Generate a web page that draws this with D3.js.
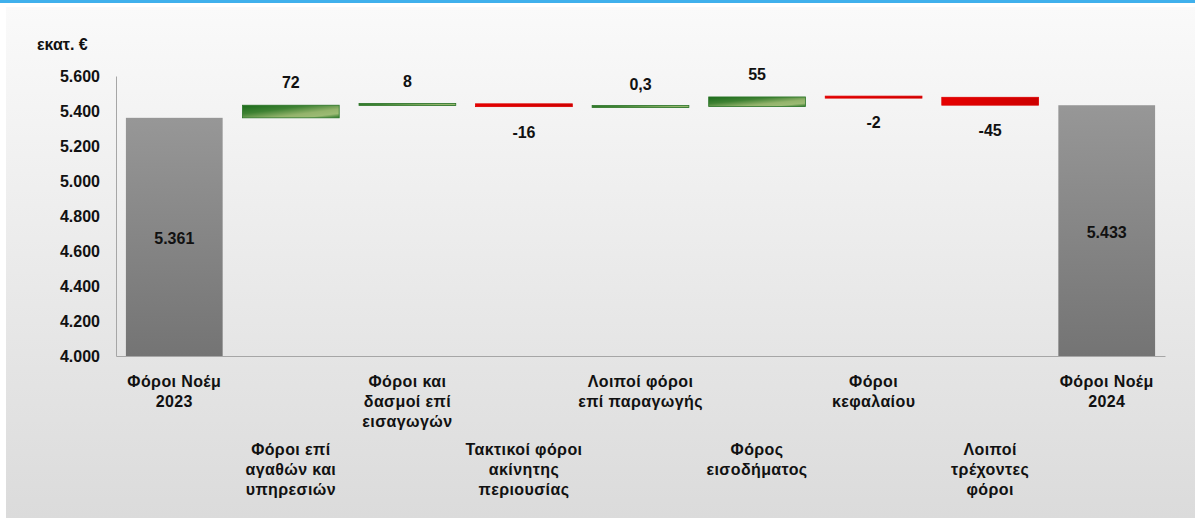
<!DOCTYPE html>
<html>
<head>
<meta charset="utf-8">
<script src="https://cdn.jsdelivr.net/npm/d3@7"></script>
<style>
  body { margin: 0; background: #fff; }
  text { font-family: "Liberation Sans", Arial, sans-serif; font-weight: bold; fill: #111; }
</style>
</head>
<body>
<svg width="1195" height="519"></svg>
<script>
// waterfall data
var categories = [
  "Φόροι Νοέμ\n2023",
  "Φόροι επί\nαγαθών και\nυπηρεσιών",
  "Φόροι και\nδασμοί επί\nεισαγωγών",
  "Τακτικοί φόροι\nακίνητης\nπεριουσίας",
  "Λοιποί φόροι\nεπί παραγωγής",
  "Φόρος\nεισοδήματος",
  "Φόροι\nκεφαλαίου",
  "Λοιποί\nτρέχοντες\nφόροι",
  "Φόροι Νοέμ\n2024"
];
var values = [5361, 72, 8, -16, 0.3, 55, -2, -45, 5433];
var isTotal = [true, false, false, false, false, false, false, false, true];
var yTicks = [4000, 4200, 4400, 4600, 4800, 5000, 5200, 5400, 5600];
var unitLabel = "εκατ. €";

var svg = d3.select("svg");
var width = +svg.attr("width");
var height = +svg.attr("height");

var locale = d3.formatLocale({decimal: ",", thousands: ".", grouping: [3], currency: ["", "€"], minus: "-"});
var fmtTick = locale.format(",d");
var fmtVal = locale.format(",.1~f");

var defs = svg.append("defs");
var bg = defs.append("linearGradient").attr("id", "bg").attr("x1", 0).attr("y1", 0).attr("x2", 0).attr("y2", 1);
bg.append("stop").attr("offset", "0%").attr("stop-color", "#fafafa");
bg.append("stop").attr("offset", "100%").attr("stop-color", "#dbdbdb");

var grey = defs.append("linearGradient").attr("id", "grey").attr("x1", 0).attr("y1", 0).attr("x2", 0).attr("y2", 1);
grey.append("stop").attr("offset", "0%").attr("stop-color", "#979797");
grey.append("stop").attr("offset", "100%").attr("stop-color", "#747474");

var green = defs.append("linearGradient").attr("id", "green").attr("x1", 0).attr("y1", 0).attr("x2", 1).attr("y2", 1);
green.append("stop").attr("offset", "0%").attr("stop-color", "#1a6b1a");
green.append("stop").attr("offset", "35%").attr("stop-color", "#3f8233");
green.append("stop").attr("offset", "65%").attr("stop-color", "#93b36b");
green.append("stop").attr("offset", "82%").attr("stop-color", "#9cbb74");
green.append("stop").attr("offset", "100%").attr("stop-color", "#2a7426");

var red = defs.append("linearGradient").attr("id", "red").attr("x1", 0).attr("y1", 0).attr("x2", 1).attr("y2", 0);
red.append("stop").attr("offset", "0%").attr("stop-color", "#e60000");
red.append("stop").attr("offset", "100%").attr("stop-color", "#cc0000");

// page chrome
svg.append("rect").attr("x", 0).attr("y", 0).attr("width", width).attr("height", 3).attr("fill", "#3fb0ec");
svg.append("rect").attr("x", 6).attr("y", 7).attr("width", width - 6).attr("height", 511).attr("fill", "url(#bg)");

var x = d3.scaleBand()
    .domain(d3.range(categories.length))
    .range([116, 1165])
    .paddingInner(0.17)
    .paddingOuter(0.085);

var y = d3.scaleLinear()
    .domain([4000, 5600])
    .range([356, 76]);

// running totals
var bars = [];
var running = 0;
values.forEach(function(v, i) {
  if (isTotal[i]) {
    bars.push({i: i, v: v, start: y.domain()[0], end: v, total: true});
    running = v;
  } else {
    bars.push({i: i, v: v, start: running, end: running + v, total: false});
    running += v;
  }
});

// axes
var yAxis = svg.append("g")
    .attr("transform", "translate(116,0)")
    .call(d3.axisLeft(y).tickValues(yTicks).tickFormat(fmtTick).tickSize(0).tickPadding(16));
yAxis.select(".domain").attr("stroke", "#a6a6a6");
yAxis.selectAll("text").style("font-size", "16px").attr("fill", "#111");

var xAxis = svg.append("g")
    .attr("transform", "translate(0,356)")
    .call(d3.axisBottom(x).tickSize(0).tickFormat(""));
xAxis.select(".domain").attr("stroke", "#a6a6a6");

svg.append("text")
    .attr("x", 37).attr("y", 50)
    .style("font-size", "16px")
    .style("font-family", "'Liberation Sans Narrow', 'Liberation Sans', Arial, sans-serif")
    .text(unitLabel);

// bars
svg.append("g").selectAll("rect")
  .data(bars)
  .enter().append("rect")
    .attr("x", function(d) { return x(d.i); })
    .attr("width", x.bandwidth())
    .attr("y", function(d) {
      var top = y(Math.max(d.start, d.end));
      var h = Math.abs(y(d.start) - y(d.end));
      return d.total ? top : top - Math.max(0, (2 - h) / 2);
    })
    .attr("height", function(d) {
      var h = Math.abs(y(d.start) - y(d.end));
      return d.total ? h : Math.max(h, 2);
    })
    .attr("fill", function(d) { return d.total ? "url(#grey)" : (d.v >= 0 ? "url(#green)" : "url(#red)"); })
    .attr("stroke", function(d) { return d.total ? "none" : (d.v >= 0 ? "#2a7426" : "#dd0000"); })
    .attr("stroke-width", 0.8);

// value labels
svg.append("g").selectAll("text")
  .data(bars)
  .enter().append("text")
    .attr("text-anchor", "middle")
    .style("font-size", "16px")
    .attr("x", function(d) { return x(d.i) + x.bandwidth() / 2; })
    .attr("y", function(d) {
      if (d.total) return (y(d.end) + y(d.start)) / 2 + 7;
      if (d.v >= 0) return y(d.end) - 17;
      return y(d.end) + 31;
    })
    .text(function(d) { return fmtVal(d.v); });

// category labels, staggered in two rows
var catG = svg.append("g").selectAll("text")
  .data(categories)
  .enter().append("text")
    .attr("text-anchor", "middle")
    .style("font-size", "16px")
    .style("letter-spacing", "0.4px")
    .attr("transform", function(d, i) {
      return "translate(" + (x(i) + x.bandwidth() / 2) + "," + (i % 2 === 0 ? 387 : 455) + ")";
    });
catG.selectAll("tspan")
  .data(function(d) { return d.split("\n"); })
  .enter().append("tspan")
    .attr("x", 0)
    .attr("dy", function(d, j) { return j === 0 ? 0 : 20; })
    .text(function(d) { return d; });
</script>
</body>
</html>
